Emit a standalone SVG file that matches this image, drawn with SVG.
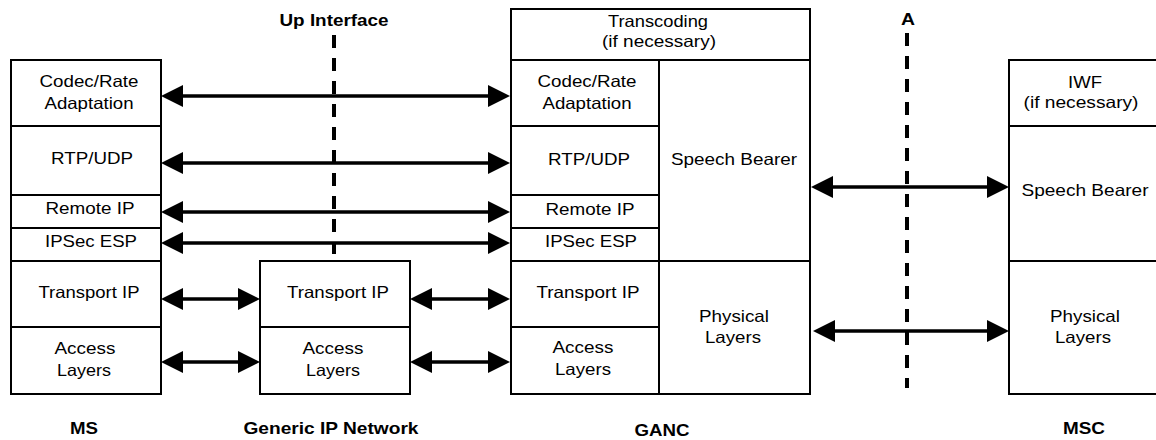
<svg xmlns="http://www.w3.org/2000/svg" width="1156" height="440" viewBox="0 0 1156 440">
<style>
rect { fill: #fff; stroke: #000; stroke-width: 2; }
text { font-family: "Liberation Sans", Arial, sans-serif; font-size: 16.5px; fill: #000; text-anchor: middle; }
text.h { font-weight: bold; }
.arrow { stroke: #000; stroke-width: 3.5; fill: none; marker-start: url(#ah); marker-end: url(#ah); }
.dash { stroke: #000; stroke-width: 4; stroke-dasharray: 13 10; fill: none; }
</style>
<defs>
<marker id="ah" viewBox="0 -11 22 22" markerWidth="22" markerHeight="22" refX="0" refY="0" markerUnits="userSpaceOnUse" orient="auto-start-reverse" overflow="visible">
<path d="M0,-11 L22,0 L0,11 z" fill="#000"/>
</marker>
</defs>
<rect x="0" y="0" width="1156" height="440" style="stroke:none;fill:#fff"/>

<g id="interfaces">
<line class="dash" x1="334" y1="35" x2="334" y2="254"/>
<text class="h" x="334" y="26" textLength="109" lengthAdjust="spacingAndGlyphs">Up Interface</text>
<line class="dash" x1="907" y1="33" x2="907" y2="388"/>
<text class="h" x="908" y="25" textLength="14" lengthAdjust="spacingAndGlyphs">A</text>
</g>

<g id="ms">
<rect x="11" y="60" width="150" height="66"/>
<rect x="11" y="126" width="150" height="69"/>
<rect x="11" y="195" width="150" height="33"/>
<rect x="11" y="228" width="150" height="33"/>
<rect x="11" y="261" width="150" height="66"/>
<rect x="11" y="327" width="150" height="67"/>
<text x="89" y="87" textLength="99" lengthAdjust="spacingAndGlyphs">Codec/Rate</text>
<text x="89" y="109" textLength="89" lengthAdjust="spacingAndGlyphs">Adaptation</text>
<text x="92" y="164" textLength="82" lengthAdjust="spacingAndGlyphs">RTP/UDP</text>
<text x="90" y="214" textLength="89" lengthAdjust="spacingAndGlyphs">Remote IP</text>
<text x="91" y="247" textLength="92" lengthAdjust="spacingAndGlyphs">IPSec ESP</text>
<text x="89" y="298" textLength="101" lengthAdjust="spacingAndGlyphs">Transport IP</text>
<text x="85" y="354" textLength="61" lengthAdjust="spacingAndGlyphs">Access</text>
<text x="84" y="376" textLength="54" lengthAdjust="spacingAndGlyphs">Layers</text>
<text class="h" x="84" y="434" textLength="28" lengthAdjust="spacingAndGlyphs">MS</text>
</g>

<g id="generic-ip-network">
<rect x="260" y="261" width="150" height="66"/>
<rect x="260" y="327" width="150" height="67"/>
<text x="338" y="298" textLength="102" lengthAdjust="spacingAndGlyphs">Transport IP</text>
<text x="333" y="354" textLength="61" lengthAdjust="spacingAndGlyphs">Access</text>
<text x="333" y="376" textLength="54" lengthAdjust="spacingAndGlyphs">Layers</text>
<text class="h" x="331" y="434" textLength="175" lengthAdjust="spacingAndGlyphs">Generic IP Network</text>
</g>

<g id="ganc">
<rect x="511" y="9" width="299" height="51"/>
<rect x="511" y="60" width="148" height="66"/>
<rect x="511" y="126" width="148" height="69"/>
<rect x="511" y="195" width="148" height="33"/>
<rect x="511" y="228" width="148" height="33"/>
<rect x="511" y="261" width="148" height="66"/>
<rect x="511" y="327" width="148" height="67"/>
<rect x="659" y="60" width="151" height="201"/>
<rect x="659" y="261" width="151" height="133"/>
<text x="658" y="27" textLength="100" lengthAdjust="spacingAndGlyphs">Transcoding</text>
<text x="659" y="47" textLength="114" lengthAdjust="spacingAndGlyphs">(if necessary)</text>
<text x="587" y="87" textLength="99" lengthAdjust="spacingAndGlyphs">Codec/Rate</text>
<text x="587" y="109" textLength="89" lengthAdjust="spacingAndGlyphs">Adaptation</text>
<text x="589" y="165" textLength="82" lengthAdjust="spacingAndGlyphs">RTP/UDP</text>
<text x="590" y="215" textLength="89" lengthAdjust="spacingAndGlyphs">Remote IP</text>
<text x="591" y="247" textLength="92" lengthAdjust="spacingAndGlyphs">IPSec ESP</text>
<text x="588" y="298" textLength="103" lengthAdjust="spacingAndGlyphs">Transport IP</text>
<text x="583" y="353" textLength="61" lengthAdjust="spacingAndGlyphs">Access</text>
<text x="583" y="375" textLength="56" lengthAdjust="spacingAndGlyphs">Layers</text>
<text x="734" y="165" textLength="126" lengthAdjust="spacingAndGlyphs">Speech Bearer</text>
<text x="734" y="322" textLength="70" lengthAdjust="spacingAndGlyphs">Physical</text>
<text x="733" y="343" textLength="56" lengthAdjust="spacingAndGlyphs">Layers</text>
<text class="h" x="662" y="436" textLength="55" lengthAdjust="spacingAndGlyphs">GANC</text>
</g>

<g id="msc">
<rect x="1009" y="60" width="153" height="66"/>
<rect x="1009" y="126" width="153" height="135"/>
<rect x="1009" y="261" width="153" height="133"/>
<text x="1085" y="88" textLength="34" lengthAdjust="spacingAndGlyphs">IWF</text>
<text x="1081" y="108" textLength="115" lengthAdjust="spacingAndGlyphs">(if necessary)</text>
<text x="1085" y="196" textLength="127" lengthAdjust="spacingAndGlyphs">Speech Bearer</text>
<text x="1085" y="322" textLength="70" lengthAdjust="spacingAndGlyphs">Physical</text>
<text x="1083" y="343" textLength="56" lengthAdjust="spacingAndGlyphs">Layers</text>
<text class="h" x="1084" y="434" textLength="42" lengthAdjust="spacingAndGlyphs">MSC</text>
</g>

<g id="connectors">
<line class="arrow" x1="183" y1="96" x2="488" y2="96"/>
<line class="arrow" x1="183" y1="163" x2="488" y2="163"/>
<line class="arrow" x1="183" y1="212" x2="488" y2="212"/>
<line class="arrow" x1="183" y1="243" x2="488" y2="243"/>
<line class="arrow" x1="183" y1="299" x2="238" y2="299"/>
<line class="arrow" x1="183" y1="362" x2="238" y2="362"/>
<line class="arrow" x1="432" y1="299" x2="488" y2="299"/>
<line class="arrow" x1="432" y1="362" x2="488" y2="362"/>
<line class="arrow" x1="833" y1="187" x2="987" y2="187"/>
<line class="arrow" x1="835" y1="331" x2="987" y2="331"/>
</g>
</svg>
